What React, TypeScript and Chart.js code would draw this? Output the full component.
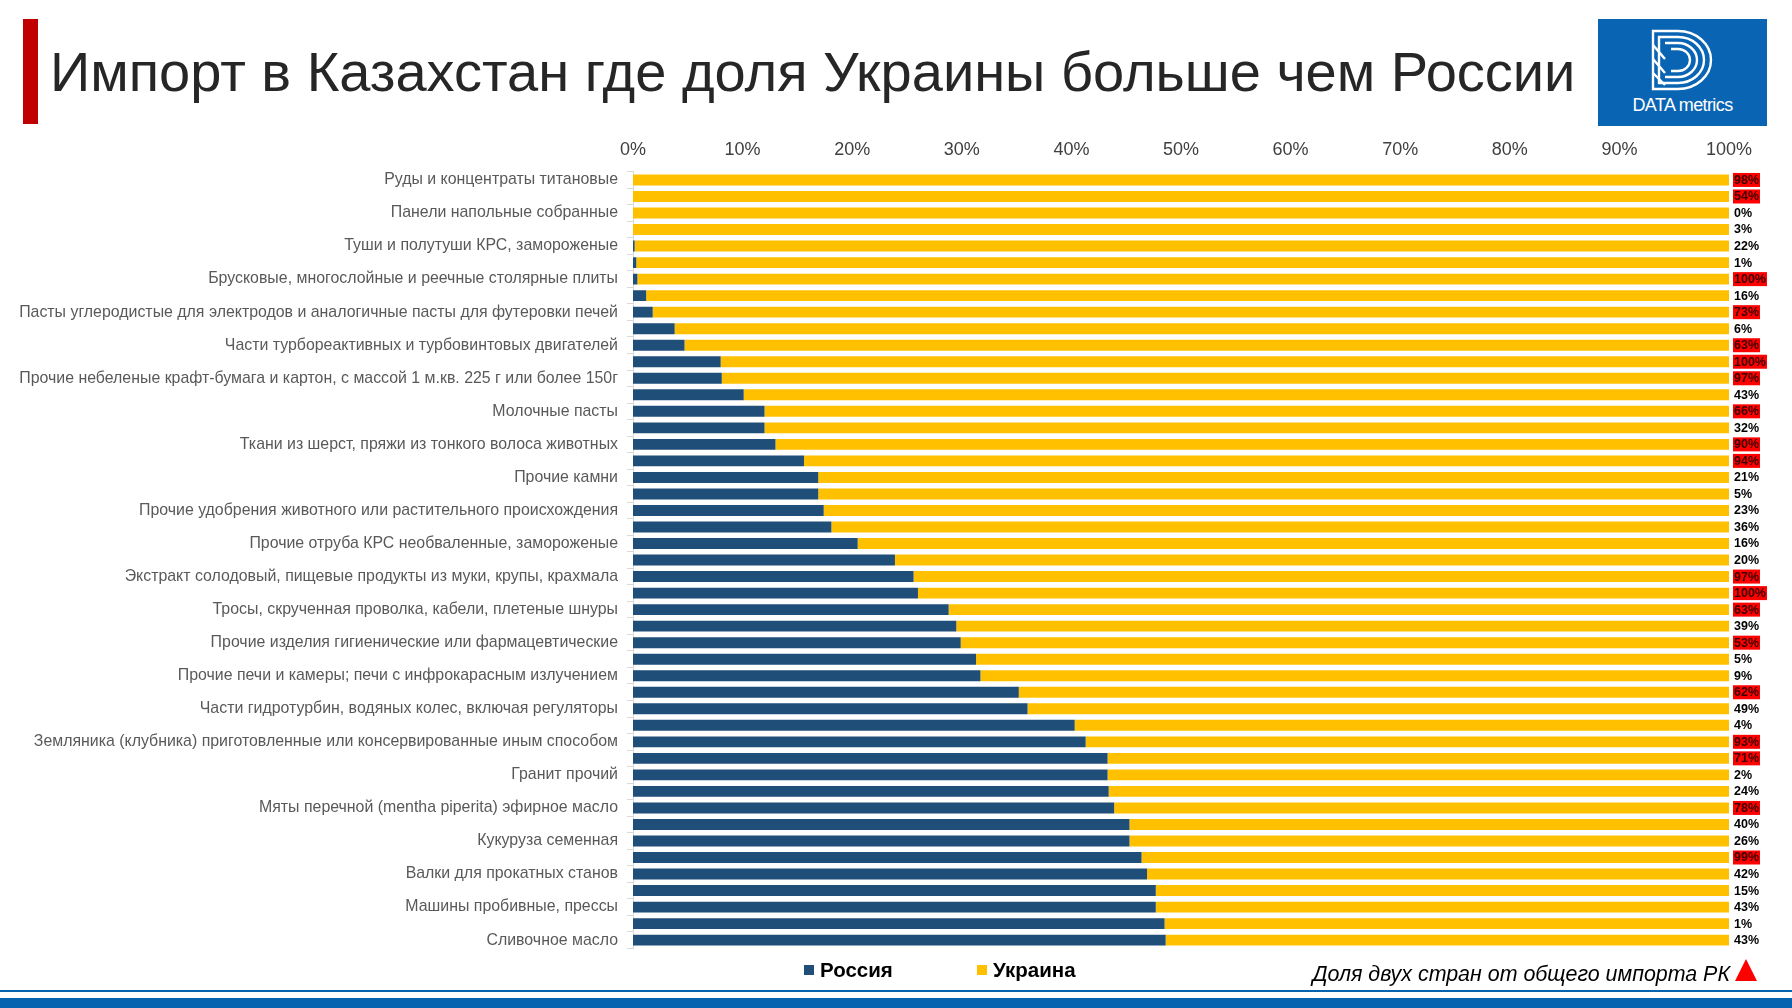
import React, { useEffect, useRef } from "react";
import { Chart, registerables } from "chart.js";

Chart.register(...registerables);

const FONT = "'Liberation Sans', Arial, sans-serif";

// Category labels (only every other row is labelled in the source)
const categories: string[] = [
  "Руды и концентраты титановые", "",
  "Панели напольные собранные", "",
  "Туши и полутуши КРС, замороженые", "",
  "Брусковые, многослойные и реечные столярные плиты", "",
  "Пасты углеродистые для электродов и аналогичные пасты для футеровки печей", "",
  "Части турбореактивных и турбовинтовых двигателей", "",
  "Прочие небеленые крафт-бумага и картон, с массой 1 м.кв. 225 г или более 150г", "",
  "Молочные пасты", "",
  "Ткани из шерст, пряжи из тонкого волоса животных", "",
  "Прочие камни", "",
  "Прочие удобрения животного или растительного происхождения", "",
  "Прочие отруба КРС необваленные, замороженые", "",
  "Экстракт солодовый, пищевые продукты из муки, крупы, крахмала", "",
  "Тросы, скрученная проволка, кабели, плетеные шнуры", "",
  "Прочие изделия гигиенические или фармацевтические", "",
  "Прочие печи и камеры; печи с инфрокарасным излучением", "",
  "Части гидротурбин, водяных колес, включая регуляторы", "",
  "Земляника (клубника) приготовленные или консервированные иным способом", "",
  "Гранит прочий", "",
  "Мяты перечной (mentha piperita) эфирное масло", "",
  "Кукуруза семенная", "",
  "Валки для прокатных станов", "",
  "Машины пробивные, прессы", "",
  "Сливочное масло",
];

// Share of Russia (%) in the two-country import
const russia: number[] = [
  0, 0, 0, 0, 0.15, 0.3, 0.4, 1.2, 1.8, 3.8, 4.7, 8.0, 8.1, 10.1, 12.0, 12.0,
  13.0, 15.6, 16.9, 16.9, 17.4, 18.1, 20.5, 23.9, 25.6, 26.0, 28.8, 29.5, 29.9,
  31.3, 31.7, 35.2, 36.0, 40.3, 41.3, 43.3, 43.3, 43.4, 43.9, 45.3, 45.3, 46.4,
  46.9, 47.7, 47.7, 48.5, 48.6,
];

// Share of Ukraine (%) in the two-country import
const ukraine: number[] = [
  100, 100, 100, 100, 99.85, 99.7, 99.6, 98.8, 98.2, 96.2, 95.3, 92.0, 91.9,
  89.9, 88.0, 88.0, 87.0, 84.4, 83.1, 83.1, 82.6, 81.9, 79.5, 76.1, 74.4, 74.0,
  71.2, 70.5, 70.1, 68.7, 68.3, 64.8, 64.0, 59.7, 58.7, 56.7, 56.7, 56.6, 56.1,
  54.7, 54.7, 53.6, 53.1, 52.3, 52.3, 51.5, 51.4,
];

// Share of the two countries in total import of Kazakhstan (%)
const shareOfTotal: number[] = [
  98, 54, 0, 3, 22, 1, 100, 16, 73, 6, 63, 100, 97, 43, 66, 32, 90, 94, 21, 5,
  23, 36, 16, 20, 97, 100, 63, 39, 53, 5, 9, 62, 49, 4, 93, 71, 2, 24, 78, 40,
  26, 99, 42, 15, 43, 1, 43,
];

const xTicks: number[] = [0, 10, 20, 30, 40, 50, 60, 70, 80, 90, 100];

const seriesNames = ["Россия", "Украина"];
const RUSSIA_COLOR = "#1F4E79";
const UKRAINE_COLOR = "#FFC000";

const shareLabelsPlugin = {
  id: "shareLabels",
  afterDatasetsDraw(chart: any) {
    const { ctx, chartArea, scales } = chart;
    const y = scales.y;
    ctx.save();
    ctx.font = `bold 12.5px ${FONT}`;
    ctx.textBaseline = "middle";
    ctx.textAlign = "left";
    shareOfTotal.forEach((v, i) => {
      const yy = y.getPixelForValue(i);
      const txt = v + "%";
      const x = chartArea.right + 4;
      const w = ctx.measureText(txt).width;
      if (v > 50) {
        ctx.fillStyle = "#FF0000";
        ctx.fillRect(x, yy - 7, w + 2, 14);
        ctx.fillStyle = "#3A0000";
      } else {
        ctx.fillStyle = "#000000";
      }
      ctx.fillText(txt, x + 1, yy + 0.5);
    });
    ctx.restore();
  },
};

export default function App() {
  const ref = useRef<HTMLCanvasElement>(null);

  useEffect(() => {
    if (!ref.current) return;
    const chart = new Chart(ref.current, {
      type: "bar",
      data: {
        labels: categories,
        datasets: [
          {
            label: seriesNames[0],
            data: russia,
            backgroundColor: RUSSIA_COLOR,
            categoryPercentage: 1,
            barPercentage: 0.66,
          },
          {
            label: seriesNames[1],
            data: ukraine,
            backgroundColor: UKRAINE_COLOR,
            categoryPercentage: 1,
            barPercentage: 0.66,
          },
        ],
      },
      options: {
        indexAxis: "y",
        responsive: false,
        animation: false,
        layout: { padding: { top: 111.7, right: 63, bottom: 59.6, left: 0 } },
        plugins: {
          legend: { display: false },
          tooltip: { enabled: false },
          title: { display: false },
        },
        scales: {
          x: {
            position: "top",
            stacked: true,
            min: 0,
            max: 100,
            afterBuildTicks: (scale: any) => {
              scale.ticks = xTicks.map((v) => ({ value: v }));
            },
            afterFit: (scale: any) => {
              scale.height = 60;
            },
            grid: { display: false },
            border: { display: false },
            ticks: {
              padding: 3,
              color: "#404040",
              font: { family: FONT, size: 18 },
              callback: (v: any) => v + "%",
            },
          },
          y: {
            stacked: true,
            afterFit: (scale: any) => {
              scale.width = 633;
            },
            grid: {
              offset: true,
              drawOnChartArea: false,
              color: "#D9D9D9",
              tickLength: 6,
            },
            border: { display: true, color: "#D9D9D9" },
            ticks: {
              autoSkip: false,
              padding: 9,
              color: "#595959",
              font: { family: FONT, size: 15.9 },
            },
          },
        },
      },
      plugins: [shareLabelsPlugin],
    } as any);
    return () => chart.destroy();
  }, []);

  return (
    <div
      style={{
        position: "absolute",
        left: 0,
        top: 0,
        width: 1792,
        height: 1008,
        background: "#ffffff",
        overflow: "hidden",
        fontFamily: FONT,
      }}
    >
      <canvas
        ref={ref}
        width={1792}
        height={1008}
        style={{ position: "absolute", left: 0, top: 0 }}
      />
      {/* red accent bar */}
      <div style={{ position: "absolute", left: 23, top: 19, width: 15, height: 105, background: "#C00000" }} />
      {/* title */}
      <div
        style={{
          position: "absolute",
          left: 50,
          top: 37,
          fontSize: 56,
          lineHeight: "70px",
          color: "#262626",
          whiteSpace: "nowrap",
        }}
      >
        Импорт в Казахстан где доля Украины больше чем России
      </div>
      {/* logo */}
      <div style={{ position: "absolute", left: 1598, top: 19, width: 169, height: 107, background: "#0A64B4" }}>
        <svg width={169} height={107} style={{ position: "absolute", left: 0, top: 0 }}>
          <g fill="none" stroke="#ffffff" strokeWidth={2.4}>
            <path d="M55,12 H80 A33,29 0 0 1 80,70 H55 Z" />
            <path d="M61,18 H80 A26,23 0 0 1 80,64 H61 Z" />
            <path d="M67,24 H80 A19,17 0 0 1 80,58 H67" />
            <path d="M73,30 H80 A12,11 0 0 1 80,52 H73" />
            <path d="M55,26 L67,40 M55,40 L67,54 M55,54 L67,66" />
          </g>
        </svg>
        <div
          style={{
            position: "absolute",
            left: 0,
            width: 169,
            top: 76,
            textAlign: "center",
            color: "#ffffff",
            fontSize: 18,
            letterSpacing: -0.6,
          }}
        >
          DATA metrics
        </div>
      </div>
      {/* legend */}
      <div style={{ position: "absolute", left: 804, top: 965, width: 10, height: 10, background: RUSSIA_COLOR }} />
      <div style={{ position: "absolute", left: 820, top: 958, fontSize: 20.5, fontWeight: "bold", color: "#000", lineHeight: "24px" }}>
        {seriesNames[0]}
      </div>
      <div style={{ position: "absolute", left: 977, top: 965, width: 10, height: 10, background: UKRAINE_COLOR }} />
      <div style={{ position: "absolute", left: 993, top: 958, fontSize: 20.5, fontWeight: "bold", color: "#000", lineHeight: "24px" }}>
        {seriesNames[1]}
      </div>
      {/* note */}
      <div
        style={{
          position: "absolute",
          right: 1792 - 1730,
          top: 960,
          fontSize: 21.4,
          fontStyle: "italic",
          color: "#000",
          lineHeight: "28px",
          whiteSpace: "nowrap",
        }}
      >
        Доля двух стран от общего импорта РК
      </div>
      <svg width={24} height={24} style={{ position: "absolute", left: 1734, top: 959 }}>
        <polygon points="12,0 23,22 1,22" fill="#FF0000" />
      </svg>
      {/* bottom lines */}
      <div style={{ position: "absolute", left: 0, top: 990, width: 1792, height: 2, background: "#0563B0" }} />
      <div style={{ position: "absolute", left: 0, top: 998, width: 1792, height: 10, background: "#0563B0" }} />
    </div>
  );
}
